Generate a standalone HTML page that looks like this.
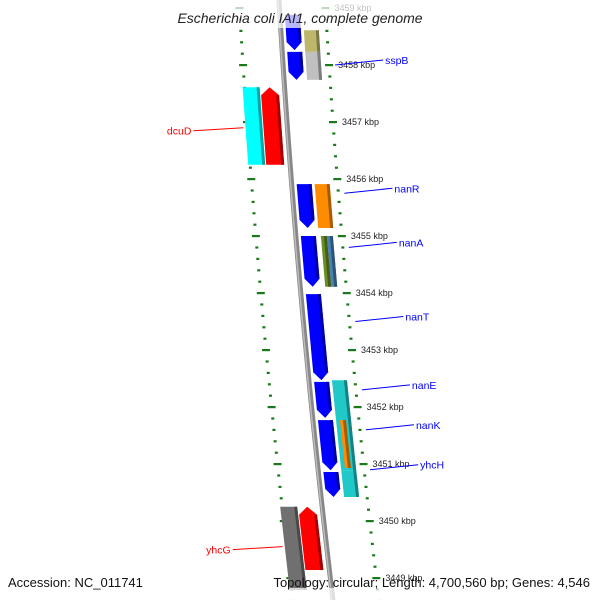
<!DOCTYPE html>
<html><head><meta charset="utf-8"><style>
html,body{margin:0;padding:0;background:#fff;}
svg{display:block;font-family:"Liberation Sans",sans-serif;}
</style></head><body>
<svg id="map" width="600" height="600" viewBox="0 0 600 600" xmlns="http://www.w3.org/2000/svg">
<g id="tracks"></g>
<g id="genes"></g>
<g id="labels"></g>
<rect x="0" y="0" width="600" height="28" fill="#fff" opacity="0.72"/>
<rect x="0" y="588" width="600" height="12" fill="#fff" opacity="0.72"/>
<text x="300" y="23" text-anchor="middle" font-size="14" font-style="italic" fill="#222">Escherichia coli IAI1, complete genome</text>
<text x="8" y="587" font-size="13" fill="#111">Accession: NC_011741</text>
<text x="590" y="587" text-anchor="end" font-size="13" fill="#111">Topology: circular; Length: 4,700,560 bp; Genes: 4,546</text>
</svg>
<script>
const tickKbp=[3459,3458,3457,3456,3455,3454,3453,3452,3451,3450,3449];
const geneStart=[3458.88,3458.23,3458.61,3458.23,3457.61,3457.61,3455.91,3455.91,3455.0,3455.0,3455.0,3453.98,3452.44,3452.47,3451.77,3451.77,3450.86,3450.89,3450.25,3450.25];
const geneEnd  =[3458.26,3457.74,3458.23,3457.74,3456.25,3456.25,3455.14,3455.14,3454.11,3454.11,3454.11,3452.47,3451.81,3450.89,3450.89,3450.93,3450.42,3450.42,3448.79,3449.14];
const geneStrand=[1,1,0,0,0,-1,1,0,1,0,0,1,1,0,1,0,1,0,0,-1];
const geneLane=["ri","ri","ro","ro","lo","li","ri","ro","ri","ro1","ro2","ri","ri","ro","ri","ron","ri","ro","lo","li"];
const geneColor=["#0000ff","#0000ff","#bdb76b","#c0c0c0","#00ffff","#ff0000","#0000ff","#ff8c00","#0000ff","#6b8e23","#4682b4","#0000ff","#0000ff","#20c8c8","#0000ff","#ff8c00","#0000ff","#20c8c8","#707070","#ff0000"];
const labelNames=["sspB","nanR","nanA","nanT","nanE","nanK","yhcH","dcuD","yhcG"];
const labelKbp=[3458.0,3455.75,3454.8,3453.5,3452.3,3451.6,3450.9,3456.9,3449.55];
const labelSide=[1,1,1,1,1,1,1,-1,-1];

const NS="http://www.w3.org/2000/svg";
function yOf(k){return 8+(3459-k)*57;}
function bx(y){return 279+0.0595*y+0.0000507*y*y;}
function X(off,y){return bx(y)+off;}
const lanes={ri:[5,20],ro:[23,38],ro1:[25,31],ro2:[31,37],ron:[27,33],li:[-24,-6],lo:[-42,-25]};
function mk(tag,attrs,parent){const e=document.createElementNS(NS,tag);for(const k in attrs)e.setAttribute(k,attrs[k]);parent.appendChild(e);return e;}
const tracks=document.getElementById('tracks'),genes=document.getElementById('genes'),labels=document.getElementById('labels');

// backbone
let pts=[];for(let y=-5;y<=605;y+=5)pts.push(X(0,y)+','+y);
let bb=mk('polyline',{points:pts.join(' '),fill:'none',stroke:'#888',"stroke-width":5},tracks);


let bb2=mk('polyline',{points:pts.join(' '),fill:'none',stroke:'#bbb',"stroke-width":1.5,transform:'translate(-1,0)'},tracks);



// dotted tracks
for(let k=3459.6;k>=3448.6;k-=0.2){
  const kr=Math.round(k*5)/5,y=yOf(kr),major=Math.abs(kr-Math.round(kr))<0.01;
  [46,-40].forEach(o=>{
    const w=major?8:3;const x=X(o,y);
    const d=mk('rect',{x:x-w/2,y:y-1,width:w,height:2.2,fill:'#1a7a1a'},tracks);
    
    
  });
}
tickKbp.forEach(k=>{const y=yOf(k);
  const t=mk('text',{x:X(55,y),y:y+3,"font-size":9,fill:'#222'},tracks);t.textContent=k+' kbp';
  
  
});

function shade(c){const n=parseInt(c.slice(1),16);const r=(n>>16)*0.65,g=((n>>8)&255)*0.65,b=(n&255)*0.65;return `rgb(${r|0},${g|0},${b|0})`;}
geneStart.forEach((s,i)=>{
  const y0=yOf(s),y1=yOf(geneEnd[i]),[a,b]=lanes[geneLane[i]],st=geneStrand[i],h=8;
  let p;
  if(st===1)p=[[a,y0],[b,y0],[b,y1-h],[(a+b)/2,y1],[a,y1-h]];
  else if(st===-1)p=[[(a+b)/2,y0],[b,y0+h],[b,y1],[a,y1],[a,y0+h]];
  else p=[[a,y0],[b,y0],[b,y1],[a,y1]];
  const g=mk('polygon',{points:p.map(q=>X(q[0],q[1])+','+q[1]).join(' '),fill:geneColor[i]},genes);
  
  
  const e=b-3,ya=st===-1?y0+h:y0,yb=st===1?y1-h:y1;
  const sp=mk('polygon',{points:[[e,ya],[b,ya],[b,yb],[e,yb]].map(q=>X(q[0],q[1])+','+q[1]).join(' '),fill:shade(geneColor[i])},genes);
  
  
});

labelNames.forEach((n,i)=>{
  const y=yOf(labelKbp[i]),side=labelSide[i];
  const col=side>0?'#0000ff':'#ff0000';
  let x1,x2,ty,tx,anchor;
  if(side>0){x1=X(52,y);x2=x1+48;ty=y-5;tx=x2+2;anchor='start';}
  else{x1=X(-44,y);x2=x1-50;ty=y+3;tx=x2-2;anchor='end';}
  const l=mk('line',{x1:x1,y1:y,x2:x2,y2:side>0?y-5:y+3,stroke:col,"stroke-width":1},labels);
  
  
  const t=mk('text',{x:tx,y:ty+4,"font-size":10.5,fill:col,"text-anchor":anchor},labels);t.textContent=n;
  
  
});
</script>
</body></html>
